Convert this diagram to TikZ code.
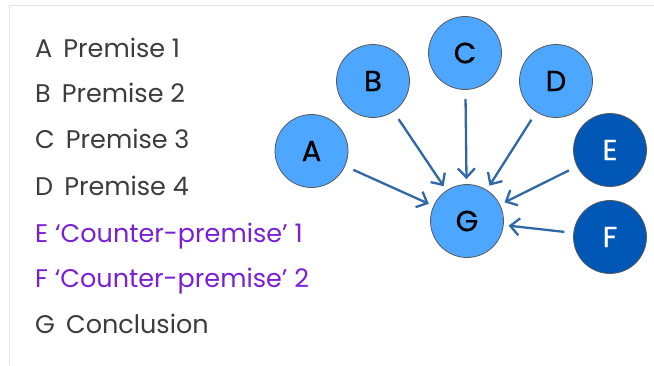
\documentclass[tikz,border=0pt]{standalone}
\usepackage{fontspec}
\setmainfont{Poppins}
\newfontfamily\nodefont[FakeBold=0.8]{Poppins}
\usetikzlibrary{arrows.meta}
\definecolor{lightnode}{HTML}{4DA6FF}
\definecolor{darknode}{HTML}{0057B5}
\definecolor{arrowcol}{HTML}{2F68A6}
\definecolor{txtgray}{HTML}{3C3C3C}
\definecolor{txtpurple}{HTML}{7A1FD6}
\definecolor{framegray}{HTML}{E2E2E2}
\begin{document}
\begin{tikzpicture}[x=1pt,y=-1pt,
  legend/.style={anchor=base west,inner sep=0pt,font=\fontsize{25.5}{30}\selectfont,text=txtgray},
  cfnode/.style={circle,draw=black!65,line width=0.8pt,minimum size=73pt,inner sep=0pt,font=\nodefont\fontsize{29}{30}\selectfont},
  lnode/.style={cfnode,fill=lightnode,text=black},
  dnode/.style={cfnode,fill=darknode,text=white},
  link/.style={draw=arrowcol,line width=2.3pt,-{Straight Barb[length=9pt,width=17pt,line width=2.3pt]},shorten <=9pt,shorten >=5pt}]
\useasboundingbox (0,0) rectangle (654,365);
\draw[framegray,line width=1.5pt] (9.5,365) -- (9.5,5.5) -- (654,5.5);
% legend
\node[legend] (la) at (35,57) {A\, Premise 1};
\node[legend] (lb) at (35,102) {B\, Premise 2};
\node[legend] (lc) at (35,148) {C\, Premise 3};
\node[legend] (ld) at (35,195) {D\, Premise 4};
\node[legend,text=txtpurple] (le) at (35,242) {E ‘Counter-premise’ 1};
\node[legend,text=txtpurple] (lf) at (35,287) {F ‘Counter-premise’ 2};
\node[legend] (lg) at (35,333) {G\, Conclusion};
% nodes
\node[lnode] (A) at (311.5,151) {A};
\node[lnode] (B) at (373,81) {B};
\node[lnode] (C) at (465,53) {C};
\node[lnode] (D) at (556,81) {D};
\node[dnode] (E) at (610,150) {E};
\node[dnode] (F) at (610,237) {F};
\node[lnode] (G) at (467,221) {G};
% arrows
\draw[link] (A) -- (G);
\draw[link] (B) -- (G);
\draw[link] (C) -- (G);
\draw[link] (D) -- (G);
\draw[link] (E) -- (G);
\draw[link] (F) -- (G);
\end{tikzpicture}
\end{document}
